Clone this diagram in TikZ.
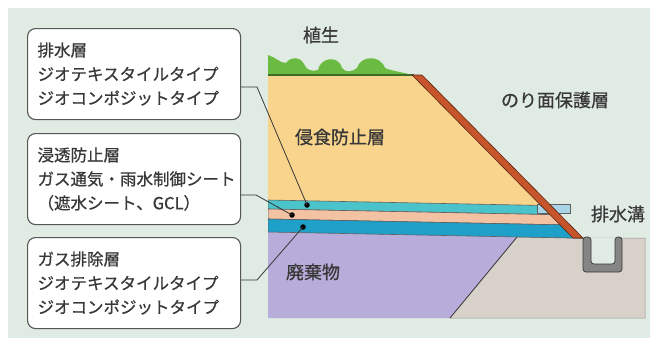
\documentclass[tikz,border=0pt]{standalone}
\usepackage{fontspec}
\newfontfamily\jpfont[FakeBold=0.7]{Noto Sans CJK JP}
\usetikzlibrary{calc,positioning}

\definecolor{bgcol}{HTML}{E0EBE4}
\definecolor{textcol}{HTML}{383838}
\definecolor{soil}{HTML}{F9D48C}
\definecolor{grass}{HTML}{6BBA42}
\definecolor{grassline}{HTML}{3F6B2A}
\definecolor{slope}{HTML}{C7552B}
\definecolor{drain}{HTML}{4BC3CA}
\definecolor{sheet}{HTML}{F3C2A3}
\definecolor{gas}{HTML}{1EA0C9}
\definecolor{waste}{HTML}{B8ADDA}
\definecolor{ground}{HTML}{D8D1CA}
\definecolor{ditch}{HTML}{858585}
\definecolor{pipeend}{HTML}{A9D5E6}

\begin{document}
\begin{tikzpicture}[x=1pt, y=-1pt,
    infobox/.style={draw=textcol!85, line width=1.1pt, fill=white, rounded corners=8pt,
        anchor=north west, minimum width=213pt, minimum height=91pt,
        text width=193pt, align=left, font=\jpfont\fontsize{16.5}{24}\selectfont, text=textcol},
    label/.style={font=\jpfont\fontsize{18}{22}\selectfont, text=textcol},
    edge/.style={draw=textcol, line width=0.8pt},
    dot/.style={circle, fill=black, inner sep=0pt, minimum size=5.5pt},
    layerline/.style={draw=textcol!80, line width=0.6pt}]

    \useasboundingbox (0,0) rectangle (650,338);
    \fill[white] (0,0) rectangle (650,338);
    \fill[bgcol] (8,8) rectangle (650,338);

    % ground beside the landfill and the ditch
    \filldraw[fill=ground, draw=ground!70!black, line width=0.5pt]
        (517,237) -- (583,238) -- (645,238) -- (645,318) -- (450,318) -- cycle;
    \filldraw[fill=waste, draw=none] (268,230) -- (517,237) -- (450,318) -- (268,318) -- cycle;
    \draw[textcol, line width=0.8pt] (517,237) -- (450,318);
    \fill[bgcol] (591,238) rectangle (615,264);
    \filldraw[fill=ditch, draw=textcol, line width=0.7pt, rounded corners=3pt]
        (583,237) -- (583,272) -- (622,272) -- (622,237) -- (615,237)
        -- (615,264) -- (591,264) -- (591,237) -- cycle;

    % cover layers, cut off along the slope
    \begin{scope}
        \clip (268,75) -- (422,75) -- ($(422,75)!1.3!(583,238)$) -- (268,300) -- cycle;
        \fill[soil] (268,75) rectangle (700,215);
        \filldraw[fill=drain, layerline] (268,200) -- (700,208.6) -- (700,217.6) -- (268,209) -- cycle;
        \filldraw[fill=sheet, layerline] (268,209) -- (700,217.6) -- (700,227.6) -- (268,219) -- cycle;
        \filldraw[fill=gas, layerline] (268,219) -- (700,227.6) -- (700,240.6) -- (268,232) -- cycle;
    \end{scope}

    % vegetation on top
    \fill[grass] (268,75) -- (268,55) .. controls (275,57) and (280,63) .. (286,63)
        .. controls (290,57) and (300,56) .. (304,64) .. controls (306,70) and (312,72) .. (318,70)
        .. controls (320,58) and (338,54) .. (342,68) .. controls (346,73) and (352,72) .. (357,68)
        .. controls (360,56) and (380,54) .. (385,68) .. controls (392,71) and (402,72) .. (412,75) -- cycle;
    \draw[grassline, line width=1.8pt] (268,75) -- (414,75);

    % drain pipe end and slope protection
    \filldraw[fill=pipeend, draw=textcol!80, line width=0.7pt] (537,204) rectangle (570,213);
    \filldraw[fill=slope, draw=slope!45!black, line width=0.6pt]
        (412,75) -- (422,75) -- (583,238) -- (573,238) -- cycle;

    % labels on the section
    \node[label] (plants) at (321,35) {植生};
    \node[label] (protect) at (555,100) {のり面保護層};
    \node[label] (erosion) at (340,137) {侵食防止層};
    \node[label] (trench) at (618,214) {排水溝};
    \node[label] (landfill) at (313,272) {廃棄物};

    % explanation boxes
    \node[infobox] (drainbox) at (27,28) {排水層\\ジオテキスタイルタイプ\\ジオコンポジットタイプ};
    \node[infobox] (sheetbox) at (27,133) {浸透防止層\\ガス通気・雨水制御シート\\（遮水シート、GCL）};
    \node[infobox] (gasbox) at (27,237) {ガス排除層\\ジオテキスタイルタイプ\\ジオコンポジットタイプ};

    \node[dot] (p1) at (307,205) {};
    \node[dot] (p2) at (292,215) {};
    \node[dot] (p3) at (303,227) {};

    \draw[edge] (drainbox.east |- 0,87) -- (257,87) -- (p1.center);
    \draw[edge] (sheetbox.east |- 0,195) -- (256,195) -- (p2.center);
    \draw[edge] (gasbox.east |- 0,280) -- (257,280) -- (p3.center);

\end{tikzpicture}
\end{document}
